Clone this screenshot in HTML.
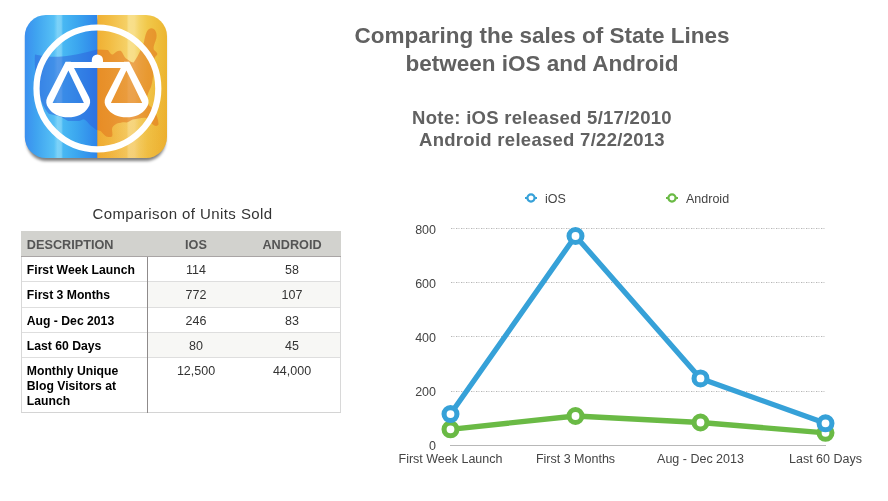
<!DOCTYPE html>
<html><head><meta charset="utf-8">
<style>
html,body{margin:0;padding:0;background:#fff;}
body{width:888px;height:501px;position:relative;overflow:hidden;font-family:"Liberation Sans",sans-serif;}
.abs{position:absolute;}
#title{left:342px;width:400px;top:22.4px;text-align:center;font-weight:bold;font-size:22.5px;line-height:28px;color:#616161;}
#note{left:342px;width:400px;top:106.5px;text-align:center;font-weight:bold;font-size:18.5px;letter-spacing:0.28px;line-height:22.3px;color:#616161;}
#ttitle{left:22px;width:321px;top:204.5px;text-align:center;font-size:15px;letter-spacing:0.42px;line-height:17px;color:#333;}
#tbl{left:21px;top:231px;width:320px;height:182px;}
#tbl div{position:absolute;}
.hl{left:0;width:320px;height:1px;background:#dedede;}
.h,.l,.v{font-size:12px;line-height:15px;white-space:nowrap;}
.h{font-weight:bold;color:#555;font-size:12.7px;}
.l{font-weight:bold;color:#000;font-size:12.2px;}
.v{color:#333;font-size:12.5px;}
.c1{left:5.8px;}
.c2{left:127px;width:96px;text-align:center;}
.c3{left:223px;width:96px;text-align:center;}
svg text{font-family:"Liberation Sans",sans-serif;}
</style></head><body>

<svg class="abs" style="left:0;top:0" width="200" height="180" viewBox="0 0 200 180">
<defs>
<linearGradient id="gb" gradientUnits="userSpaceOnUse" x1="25" x2="97.4" y1="0" y2="0">
<stop offset="0" stop-color="#3b8fef"/><stop offset="0.15" stop-color="#3fa3f0"/><stop offset="0.4" stop-color="#56c0f5"/><stop offset="0.45" stop-color="#7cd2f8"/><stop offset="0.5" stop-color="#78cff7"/><stop offset="0.525" stop-color="#48b8f3"/><stop offset="0.72" stop-color="#3ba6ef"/><stop offset="1" stop-color="#2e84ea"/>
</linearGradient>
<linearGradient id="go" gradientUnits="userSpaceOnUse" x1="97.4" x2="167" y1="0" y2="0">
<stop offset="0" stop-color="#f0b034"/><stop offset="0.18" stop-color="#f2bd44"/><stop offset="0.42" stop-color="#f5d066"/><stop offset="0.45" stop-color="#f8e08c"/><stop offset="0.53" stop-color="#f8de88"/><stop offset="0.6" stop-color="#f4d468"/><stop offset="0.72" stop-color="#f1c84a"/><stop offset="1" stop-color="#ecb530"/>
</linearGradient>
<linearGradient id="gv" x1="0" x2="0" y1="0" y2="1"><stop offset="0.3" stop-color="#ea8a20" stop-opacity="0"/><stop offset="1" stop-color="#ea8a20" stop-opacity="0.18"/></linearGradient>
<clipPath id="rr"><rect x="24.8" y="15" width="142.2" height="143" rx="21" ry="21"/></clipPath>
<clipPath id="cl"><rect x="0" y="0" width="97.4" height="180"/></clipPath>
<clipPath id="cr"><rect x="97.4" y="0" width="103" height="180"/></clipPath>
<filter id="sh" x="-20%" y="-20%" width="140%" height="140%"><feGaussianBlur stdDeviation="1.8"/></filter>
<path id="usa" d="M35 54.5 C45 57 55 57 62 56.5 C75 55.5 88 52 97 49.5 L108 50 C110 53 111 55 113 54.5 C116 52 118 50 121 51 C123 53 124 57 126 58.5 C129 60 131 63 133.5 62.5 C137 58 141 50 144 42 C145 37 146 31 149 29 C151 27.5 154 28 155.5 31 C157 34 157 37 155.5 41 C154 45 153 48 154 50 C156 52 158 53 157 55 C155 57 154 58 154 61 C154 70 153 80 151 87 C149 91 147 95 146.5 100 C146.5 104 150 106 153.5 109 C156 113 158.5 119 158.5 124.5 C157 127 153.5 126 151 122.5 C149.5 120 148 118.5 146 118 C143 117 138 119 132.7 119.5 C130 121 128 122.5 126 122.5 C123 122 120 123 117 123.5 C114 125 112 127 112 129 C112 132 113 135 112 136.5 C110 137.5 107 137 105.5 136 C103 134 102 132 100.5 131 L96 129.7 C94 128 92 126.5 90 125 C88 123 86 120 84 119.3 C82 119.5 80 121 79 121 L68 121 C66 120 63 118 61.5 117 C57 115.5 53 115 48.8 113.7 C44 108 40 100 38 90 C36 80 34 65 35 54.5 Z"/>
</defs>
<rect x="26.5" y="19" width="139" height="142" rx="20" fill="#000" opacity="0.5" filter="url(#sh)"/>
<g clip-path="url(#rr)">
<rect x="24" y="14" width="73.4" height="146" fill="url(#gb)"/>
<rect x="97.4" y="14" width="71" height="146" fill="url(#go)"/>
<rect x="97.4" y="14" width="71" height="146" fill="url(#gv)"/>
<use href="#usa" fill="#2b5fdc" opacity="0.5" clip-path="url(#cl)"/>
<use href="#usa" fill="#e0701a" opacity="0.52" clip-path="url(#cr)"/>
</g>
<circle cx="97.4" cy="88.4" r="60.9" fill="none" stroke="#fff" stroke-width="6.2"/>
<path id="pan" fill="#fff" fill-rule="evenodd" d="M65.6 61.8 L47.3 97.2 C45.5 101 46 104.5 48.5 108 C52 114 60 117.3 68.2 117.3 C76.4 117.3 84.4 114 87.9 108 C90.4 104.5 90.9 101 89.1 97.2 L70.8 61.8 Z M68.4 70.6 L52.6 102.9 L83.9 102.9 Z"/>
<use href="#pan" transform="translate(194.8,0) scale(-1,1)"/>
<path d="M66 61.9 H128.8 V68 H66 Z" fill="#fff"/>
<path d="M91.8 62.5 V60 A5.6 5.6 0 0 1 103 60 V62.5 Z" fill="#fff"/>
</svg>

<div id="title" class="abs">Comparing the sales of State Lines<br>between iOS and Android</div>
<div id="note" class="abs">Note: iOS released 5/17/2010<br>Android released 7/22/2013</div>

<div id="ttitle" class="abs">Comparison of Units Sold</div>
<div id="tbl" class="abs">
<div class="abs" style="left:0;top:0;width:320px;height:25px;background:#d2d2ce"></div>
<div class="abs" style="left:127px;top:51px;width:193px;height:25px;background:#f7f7f5"></div>
<div class="abs" style="left:127px;top:102px;width:193px;height:24px;background:#f7f7f5"></div>
<div class="abs hl" style="top:50px"></div><div class="abs hl" style="top:76px"></div><div class="abs hl" style="top:101px"></div><div class="abs hl" style="top:126px"></div>
<div class="abs" style="left:0;top:25px;width:1px;height:157px;background:#d8d8d8"></div>
<div class="abs" style="left:319px;top:25px;width:1px;height:157px;background:#d8d8d8"></div>
<div class="abs" style="left:0;top:181px;width:320px;height:1px;background:#d4d4d4"></div>
<div class="abs" style="left:0;top:25px;width:320px;height:1px;background:#a9a5a5"></div>
<div class="abs" style="left:126px;top:26px;width:1px;height:156px;background:#8f8b8b"></div>
<div class="h c1" style="top:6.6px">DESCRIPTION</div><div class="h c2" style="top:6.6px">IOS</div><div class="h c3" style="top:6.6px">ANDROID</div>
<div class="l c1" style="top:32px">First Week Launch</div><div class="v c2" style="top:32px">114</div><div class="v c3" style="top:32px">58</div>
<div class="l c1" style="top:56.6px">First 3 Months</div><div class="v c2" style="top:56.6px">772</div><div class="v c3" style="top:56.6px">107</div>
<div class="l c1" style="top:83px">Aug - Dec 2013</div><div class="v c2" style="top:83px">246</div><div class="v c3" style="top:83px">83</div>
<div class="l c1" style="top:107.6px">Last 60 Days</div><div class="v c2" style="top:107.6px">80</div><div class="v c3" style="top:107.6px">45</div>
<div class="l c1" style="top:132.6px">Monthly Unique<br>Blog Visitors at<br>Launch</div><div class="v c2" style="top:132.6px">12,500</div><div class="v c3" style="top:132.6px">44,000</div>
</div>

<svg class="abs" style="left:380px;top:180px" width="508" height="321" viewBox="380 180 508 321">
<g stroke="#b6b6b6" stroke-width="1" stroke-dasharray="1,4">
<path d="M451 228.5H826M451 282.5H826M451 336.5H826M451 391.5H826"/>
</g>
<g stroke="#dadada" stroke-width="1" stroke-dasharray="2.5,2.5">
<path d="M452.3 228.5H826M452.3 282.5H826M452.3 336.5H826M452.3 391.5H826"/>
</g>
<path d="M450 445.5H826" stroke="#b8b8b8" stroke-width="1"/>
<g font-size="12.5" fill="#444" text-anchor="end">
<text x="436" y="234">800</text><text x="436" y="288">600</text><text x="436" y="342">400</text><text x="436" y="396">200</text><text x="436" y="450">0</text>
</g>
<g font-size="12.5" fill="#444" text-anchor="middle">
<text x="450.5" y="463">First Week Launch</text><text x="575.5" y="463">First 3 Months</text><text x="700.5" y="463">Aug - Dec 2013</text><text x="825.5" y="463">Last 60 Days</text>
</g>
<g fill="none" stroke="#6aba45" stroke-width="5.3" stroke-linejoin="round">
<path d="M450.5 429.3 L575.5 416 L700.5 422.5 L825.5 432.8"/>
</g>
<g fill="#fff" stroke="#6aba45" stroke-width="5.1">
<circle cx="450.5" cy="429.3" r="6.45"/><circle cx="575.5" cy="416" r="6.45"/><circle cx="700.5" cy="422.5" r="6.45"/><circle cx="825.5" cy="432.8" r="6.45"/>
</g>
<g fill="none" stroke="#36a1d8" stroke-width="5.3" stroke-linejoin="round">
<path d="M450.5 414.1 L575.5 236 L700.5 378.4 L825.5 423.3"/>
</g>
<g fill="#fff" stroke="#36a1d8" stroke-width="5.1">
<circle cx="450.5" cy="414.1" r="6.45"/><circle cx="575.5" cy="236" r="6.45"/><circle cx="700.5" cy="378.4" r="6.45"/><circle cx="825.5" cy="423.3" r="6.45"/>
</g>
<!-- legend -->
<path d="M525 198H537" stroke="#36a1d8" stroke-width="2"/>
<circle cx="531" cy="198" r="3.6" fill="#fff" stroke="#36a1d8" stroke-width="2.2"/>
<text x="545" y="202.5" font-size="12.5" fill="#444">iOS</text>
<path d="M666 198H678" stroke="#6aba45" stroke-width="2"/>
<circle cx="672" cy="198" r="3.6" fill="#fff" stroke="#6aba45" stroke-width="2.2"/>
<text x="686" y="202.5" font-size="12.5" fill="#444">Android</text>
</svg>

</body></html>
